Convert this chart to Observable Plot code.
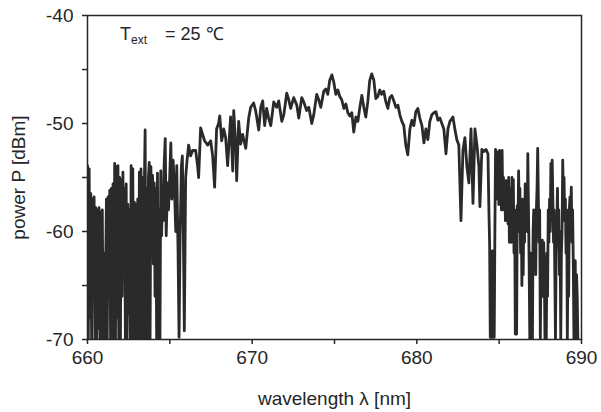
<!DOCTYPE html>
<html>
<head>
<meta charset="utf-8">
<script src="https://cdn.jsdelivr.net/npm/d3@7"></script>
<script src="https://cdn.jsdelivr.net/npm/@observablehq/plot@0.6"></script>
<style>
  html, body { margin: 0; padding: 0; background: #fff; }
  #chart svg { display: block; }
</style>
</head>
<body>
<div id="chart"></div>
<script>
// Spectrum: [wavelength (nm), power (dBm)]
const leftNoisyBand = [
  [660.00,-53.9],[660.05,-70],[660.10,-54.2],[660.15,-68],[660.20,-56.5],[660.25,-70],[660.30,-57],[660.35,-64],
  [660.40,-56.8],[660.45,-70],[660.50,-57.8],[660.55,-70],[660.60,-58],[660.65,-69],[660.70,-57.8],[660.75,-70],
  [660.80,-58.2],[660.85,-70],[660.90,-58],[660.95,-70],[661.00,-62],[661.05,-70],[661.10,-63.5],[661.15,-57],
  [661.20,-70],[661.25,-56.8],[661.30,-66],[661.35,-56.2],[661.40,-70],[661.45,-56],[661.50,-70],[661.55,-55.6],
  [661.60,-70],[661.65,-53.7],[661.70,-70],[661.75,-54],[661.80,-68],[661.85,-53.9],[661.90,-70],[661.95,-55],
  [662.00,-70],[662.05,-55.2],[662.10,-66],[662.15,-54.5],[662.20,-63],[662.25,-56],[662.30,-70],[662.35,-55.6],
  [662.40,-70],[662.45,-57.5],[662.50,-67.6],[662.55,-58],[662.60,-70],[662.65,-53.9],[662.70,-70],[662.75,-54.2],
  [662.80,-70],[662.85,-57.3],[662.90,-70],[662.95,-57.5],[663.00,-70],[663.05,-57],[663.10,-70],[663.15,-54.5],
  [663.20,-70],[663.25,-54.2],[663.30,-70],[663.35,-55],[663.40,-70],[663.45,-56],[663.50,-50.6],[663.55,-70],
  [663.60,-56],[663.65,-70],[663.70,-55],[663.75,-53.6],[663.80,-70],[663.85,-54],[663.90,-61.5],[663.95,-54.8],
  [664.00,-63],[664.05,-55.5],[664.10,-66],[664.15,-56],[664.20,-70],[664.25,-54.6],[664.30,-70],[664.35,-58],
  [664.40,-70],[664.45,-54.4],[664.50,-60.4],[664.55,-57],[664.60,-59],[664.65,-54],[664.72,-51.4],[664.78,-60.4],
  [664.86,-55.5],[664.92,-58],[664.98,-55.5],[665.06,-51.8],[665.12,-57],[665.20,-53.4],[665.28,-56],[665.36,-60],
  [665.42,-53.9],[665.50,-62],[665.56,-69.8],[665.62,-61],[665.70,-54],[665.76,-53],[665.82,-60],[665.88,-69.2],
  [665.96,-55],[666.04,-53.5]
];
const centralBand = [
  [666.14,-52],[666.26,-53],[666.38,-52.5],[666.57,-52.5],[666.69,-54],[666.75,-55],[666.87,-50.4],[666.99,-51],
  [667.11,-51.6],[667.30,-52],[667.48,-51.6],[667.60,-53],[667.72,-55.9],[667.84,-50.5],[667.96,-50],[668.03,-49.3],
  [668.15,-51.6],[668.27,-50.5],[668.39,-51.3],[668.51,-53.9],[668.69,-49.4],[668.82,-54.4],[668.88,-48.8],[669.00,-52],
  [669.06,-55.3],[669.18,-49.8],[669.30,-51.9],[669.42,-51],[669.61,-52.3],[669.79,-49.5],[669.91,-48.5],[670.09,-48.1],
  [670.21,-48.8],[670.40,-50.6],[670.52,-48.5],[670.64,-47.9],[670.76,-50.2],[670.88,-48.6],[671.00,-49.5],[671.13,-50.2],
  [671.31,-48],[671.49,-48.5],[671.61,-47.9],[671.80,-49.8],[671.92,-49.2],[672.10,-47.2],[672.22,-47.8],[672.34,-48.6],
  [672.52,-47.6],[672.71,-48.3],[672.83,-49.5],[673.01,-47.6],[673.13,-48],[673.31,-48.8],[673.44,-48.5],[673.62,-50],
  [673.74,-49.2],[673.92,-47.3],[674.04,-47.8],[674.17,-48.5],[674.35,-47.0],[674.47,-46.8],[674.59,-47.3],[674.71,-46.0],
  [674.84,-45.5],[674.96,-46.2],[675.08,-47.3],[675.20,-46.9],[675.32,-47.5],[675.44,-47.8],[675.57,-48.6],[675.69,-48.2],
  [675.81,-49.0],[675.93,-49.3],[676.05,-49.0],[676.17,-50.8],[676.30,-49.4],[676.42,-49.8],[676.54,-48.5],[676.66,-47.4],
  [676.78,-48.5],[676.90,-49.4],[677.02,-48],[677.14,-46],[677.26,-45.4],[677.39,-46],[677.51,-47.7],[677.63,-47.5],
  [677.75,-46.9],[677.87,-47.3],[677.99,-47.0],[678.12,-48.0],[678.24,-48.6],[678.36,-47.6],[678.48,-47.4],[678.60,-47.9],
  [678.73,-48.5],[678.85,-48.3],[678.97,-49.2],[679.09,-49.8],[679.21,-50.2],[679.33,-52.0],[679.45,-52.9],[679.58,-50.5],
  [679.70,-49.7],[679.82,-50.2],[679.94,-48.9],[680.06,-48.6],[680.18,-49.5],[680.31,-50.2],[680.43,-51.8],[680.55,-50.5],
  [680.67,-51.5],[680.79,-49.8],[680.91,-49.2],[681.04,-49.0],[681.16,-48.9],[681.28,-49.7],[681.40,-49.5],[681.52,-50],
  [681.64,-50.5],[681.77,-52.8],[681.89,-50.5],[682.01,-49.8],[682.19,-49.4],[682.31,-50.5],[682.43,-51.5],[682.55,-52],
  [682.68,-59],[682.80,-52.5],[682.92,-51.3],[683.04,-54],[683.16,-55.5],[683.29,-50.5],[683.41,-57.4],[683.53,-50.5],
  [683.65,-52],[683.77,-54],[683.83,-57.7],[683.95,-52.4],[684.08,-52.6],[684.20,-52.4],[684.32,-52.8]
];
const rightNoisyBand = [
  [684.38,-58.3],[684.42,-61.1],[684.46,-69.8],[684.50,-64],[684.54,-69.8],[684.58,-61.8],[684.62,-69.8],[684.66,-63],
  [684.70,-69.8],[684.74,-60],[684.78,-52.4],[684.82,-56],[684.86,-52.6],[684.90,-57],[684.94,-54],[684.98,-57.5],
  [685.02,-52.5],[685.06,-57],[685.10,-55],[685.14,-58],[685.18,-52.5],[685.22,-58],[685.26,-55],[685.30,-57],
  [685.34,-56],[685.38,-59],[685.42,-55.3],[685.46,-58.5],[685.50,-56],[685.54,-59.3],[685.58,-55],[685.62,-61],
  [685.66,-56],[685.70,-57],[685.74,-61],[685.78,-55],[685.82,-60],[685.86,-55.2],[685.90,-62],[685.94,-58],
  [685.98,-69.5],[686.02,-63],[686.06,-69.5],[686.10,-57.6],[686.14,-60],[686.18,-54.4],[686.22,-58],[686.26,-56],
  [686.30,-62],[686.34,-58],[686.38,-65],[686.42,-57],[686.46,-64],[686.50,-57],[686.54,-61],[686.58,-55.6],
  [686.62,-59],[686.66,-56],[686.70,-60],[686.74,-52.8],[686.78,-58],[686.82,-63],[686.86,-70],[686.90,-62],
  [686.94,-70],[686.98,-64],[687.02,-70],[687.06,-60],[687.10,-58],[687.14,-63],[687.18,-59],[687.22,-64],
  [687.26,-58],[687.30,-56],[687.34,-52.3],[687.38,-57],[687.42,-61],[687.46,-58],[687.50,-70],[687.54,-62],
  [687.58,-66],[687.62,-60.8],[687.66,-66],[687.70,-61],[687.74,-63],[687.78,-70],[687.82,-65],[687.86,-70],
  [687.90,-62],[687.94,-66],[687.98,-58],[688.02,-61],[688.06,-57],[688.10,-60],[688.14,-53.7],[688.18,-59],
  [688.22,-53.4],[688.26,-57],[688.30,-61],[688.34,-58],[688.38,-64],[688.42,-70],[688.46,-62],[688.50,-60],
  [688.54,-56],[688.58,-61],[688.62,-58],[688.66,-64],[688.70,-60],[688.74,-70],[688.78,-62],[688.82,-60],
  [688.86,-53.4],[688.90,-57],[688.94,-55],[688.98,-59],[689.02,-57],[689.06,-62],[689.10,-58],[689.14,-70],
  [689.18,-62],[689.22,-66],[689.26,-58],[689.30,-56.8],[689.34,-60],[689.38,-55.9],[689.42,-61],[689.46,-58],
  [689.50,-62.7],[689.54,-70],[689.58,-64],[689.62,-62.7],[689.66,-70],[689.70,-64],[689.74,-66],[689.78,-70]
];

const xMajorTicks = [660, 670, 680, 690];
const xMinorTicks = [665, 675, 685];
const yMajorTicks = [-70, -60, -50, -40];
const yMinorTicks = [-65, -55, -45];
const xLabel = "wavelength λ [nm]";
const yLabel = "power P [dBm]";
const noteSymbol = "T";
const noteSubscript = "ext";
const noteValue = "= 25 ℃";

const spectrum = [...leftNoisyBand, ...centralBand, ...rightNoisyBand]
  .map(([w, p]) => ({w, p}));

const ink = "#262626";

const chart = Plot.plot({
  width: 601,
  height: 412,
  marginLeft: 87,
  marginRight: 20,
  marginTop: 15,
  marginBottom: 73,
  style: {fontFamily: "'Liberation Sans', Arial, sans-serif", fontSize: "19px", color: ink, background: "#fff"},
  x: {domain: [660, 690]},
  y: {domain: [-70, -40]},
  marks: [
    Plot.line(spectrum, {x: "w", y: "p", stroke: "#2a2a2a", strokeWidth: 2.8, clip: true}),
    Plot.frame({stroke: ink, strokeWidth: 1.5}),
    Plot.axisX(xMinorTicks, {tickSize: 5, tickFormat: () => "", label: null, strokeWidth: 1.5}),
    Plot.axisX(xMajorTicks, {tickSize: 5, tickPadding: 6, strokeWidth: 1.5, tickFormat: d => String(d),
      label: xLabel, labelAnchor: "center", labelArrow: "none", labelOffset: 65}),
    Plot.axisY(yMinorTicks, {tickSize: 5, tickFormat: () => "", label: null, strokeWidth: 1.5}),
    Plot.axisY(yMajorTicks, {tickSize: 5, tickPadding: 9, strokeWidth: 1.5, tickFormat: d => String(d),
      label: yLabel, labelAnchor: "center", labelArrow: "none", labelOffset: 76})
  ]
});

document.getElementById("chart").appendChild(chart);

// Annotation "T_ext = 25 ℃"
const svg = d3.select(chart);
const note = svg.append("text")
  .attr("x", 120).attr("y", 40)
  .attr("text-anchor", "start")
  .attr("fill", ink)
  .attr("font-family", "'Liberation Sans', Arial, sans-serif")
  .attr("font-size", 18);
note.append("tspan").text(noteSymbol);
note.append("tspan").attr("font-size", 12).attr("dy", 4).text(noteSubscript);
note.append("tspan").attr("x", 165).attr("dy", -4).text(noteValue);
</script>
</body>
</html>
